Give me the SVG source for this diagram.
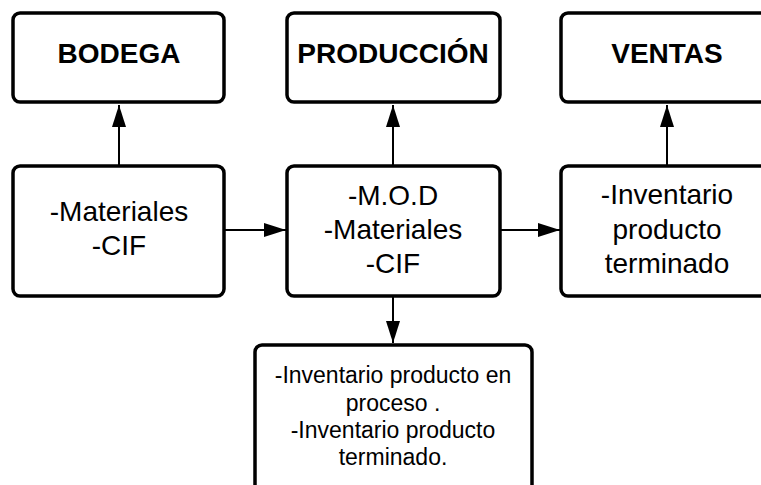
<svg xmlns="http://www.w3.org/2000/svg" width="761" height="485" viewBox="0 0 761 485">
<defs>
<style>
.box{fill:#fff;stroke:#000;stroke-width:3.5}
.title{font-family:"Liberation Sans",Arial,sans-serif;font-weight:bold;font-size:28px;text-anchor:middle;fill:#000}
.body{font-family:"Liberation Sans",Arial,sans-serif;font-size:28px;text-anchor:middle;fill:#000}
.small{font-family:"Liberation Sans",Arial,sans-serif;font-size:23px;text-anchor:middle;fill:#000}
.conn{stroke:#000;stroke-width:2;fill:none}
</style>
<marker id="arr" markerWidth="22" markerHeight="14" refX="22" refY="7" orient="auto" markerUnits="userSpaceOnUse">
<path d="M0,0 L22,7 L0,14 Z" fill="#000"/>
</marker>
</defs>
<rect width="761" height="485" fill="#fff"/>
<g id="connectors">
<line class="conn" x1="119" y1="166" x2="119" y2="105" marker-end="url(#arr)"/>
<line class="conn" x1="393" y1="166" x2="393" y2="105" marker-end="url(#arr)"/>
<line class="conn" x1="667" y1="166" x2="667" y2="105" marker-end="url(#arr)"/>
<line class="conn" x1="224" y1="230" x2="286" y2="230" marker-end="url(#arr)"/>
<line class="conn" x1="500" y1="230" x2="560" y2="230" marker-end="url(#arr)"/>
<line class="conn" x1="393" y1="296" x2="393" y2="343" marker-end="url(#arr)"/>
</g>
<g id="bodega">
<rect class="box" x="13" y="13" width="211" height="89" rx="7"/>
<text class="title" x="119" y="63">BODEGA</text>
</g>
<g id="produccion">
<rect class="box" x="287" y="13" width="213" height="89" rx="7"/>
<text class="title" x="393" y="63">PRODUCCIÓN</text>
</g>
<g id="ventas">
<rect class="box" x="561" y="13" width="212" height="89" rx="7"/>
<text class="title" x="667" y="63">VENTAS</text>
</g>
<g id="bodega-items">
<rect class="box" x="13" y="166" width="211" height="130" rx="7"/>
<text class="body" x="119" y="221">-Materiales</text>
<text class="body" x="119" y="255">-CIF</text>
</g>
<g id="produccion-items">
<rect class="box" x="287" y="166" width="213" height="130" rx="7"/>
<text class="body" x="393" y="205">-M.O.D</text>
<text class="body" x="393" y="239">-Materiales</text>
<text class="body" x="393" y="273">-CIF</text>
</g>
<g id="ventas-items">
<rect class="box" x="561" y="166" width="212" height="130" rx="7"/>
<text class="body" x="667" y="204">-Inventario</text>
<text class="body" x="667" y="239">producto</text>
<text class="body" x="667" y="273">terminado</text>
</g>
<g id="inventario">
<rect class="box" x="255" y="345" width="277" height="160" rx="7"/>
<text class="small" x="393" y="383">-Inventario producto en</text>
<text class="small" x="393" y="411">proceso .</text>
<text class="small" x="393" y="438">-Inventario producto</text>
<text class="small" x="393" y="465">terminado.</text>
</g>
</svg>
